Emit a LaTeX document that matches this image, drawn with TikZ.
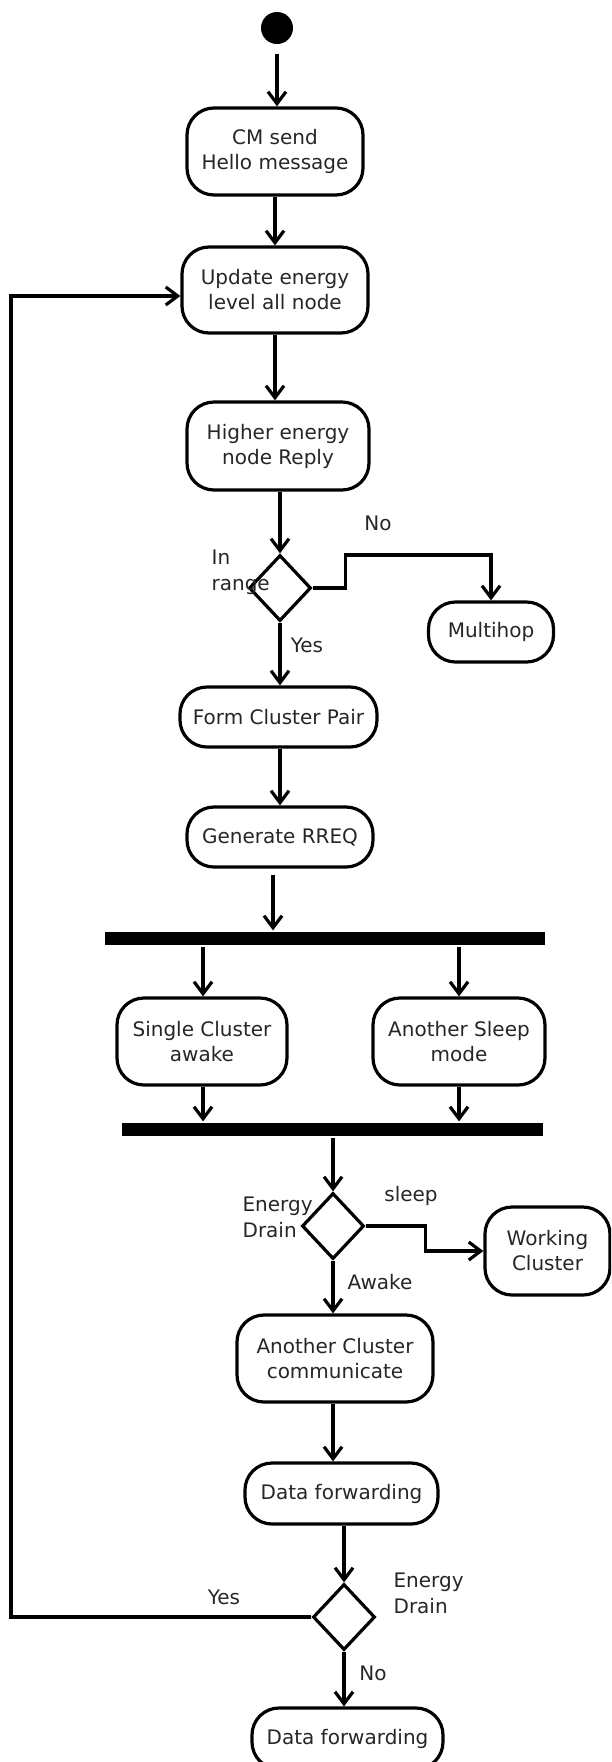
\documentclass[tikz,border=0pt]{standalone}
\usepackage{fontspec}
\setmainfont{DejaVu Sans}
\usetikzlibrary{arrows.meta,shapes.geometric}
\begin{document}
\begin{tikzpicture}[x=1pt,y=-1pt,
  line width=3.2pt,
  every node/.style={font=\fontsize{20}{25}\selectfont, text=black!85},
  act/.style={draw=black, rounded corners=27pt, align=center, inner sep=0pt, line width=3.2pt},
  dec/.style={draw=black, diamond, inner sep=0pt, minimum width=62pt, minimum height=66pt, line width=3.2pt},
  bar/.style={fill=black, inner sep=0pt, draw=none},
  arr/.style={-{Straight Barb[length=12pt,width=18pt]}},
  lbl/.style={inner sep=0pt, align=left, font=\fontsize{20}{26}\selectfont}
]
\clip (0,0) rectangle (611,1762);
% nodes
\node[circle, fill=black, minimum size=32pt, inner sep=0pt] (s) at (277,28) {};
\node[act, minimum width=176pt, minimum height=87pt] (b1) at (275,151.5) {CM send\\Hello message};
\node[act, minimum width=186pt, minimum height=86pt] (b2) at (275,290) {Update energy\\level all node};
\node[act, minimum width=182pt, minimum height=88pt] (b3) at (278,446) {Higher energy\\node Reply};
\node[dec] (d1) at (280,588) {};
\node[act, minimum width=125pt, minimum height=60pt] (mh) at (491,632) {Multihop};
\node[act, minimum width=197pt, minimum height=60pt] (form) at (278.5,717) {Form Cluster Pair};
\node[act, minimum width=186pt, minimum height=60pt] (rreq) at (280,837) {Generate RREQ};
\node[bar, minimum width=440pt, minimum height=13pt] (bar1) at (325,938.5) {};
\node[act, minimum width=170pt, minimum height=87pt] (single) at (202,1041.5) {Single Cluster\\awake};
\node[act, minimum width=172pt, minimum height=87pt] (sleepm) at (459,1041.5) {Another Sleep\\mode};
\node[bar, minimum width=421pt, minimum height=13pt] (bar2) at (332.5,1129.5) {};
\node[dec] (d2) at (333,1226) {};
\node[act, minimum width=125pt, minimum height=88pt] (wc) at (547.5,1251) {Working\\Cluster};
\node[act, minimum width=196pt, minimum height=87pt] (comm) at (335,1358.5) {Another Cluster\\communicate};
\node[act, minimum width=193pt, minimum height=61pt] (df1) at (341.5,1493.5) {Data forwarding};
\node[dec] (d3) at (344,1617) {};
\node[act, minimum width=191pt, minimum height=61pt] (df2) at (347.5,1738.5) {Data forwarding};
% labels
\node[lbl, anchor=north west] (lin) at (210,548) {In\\range};
\node[inner sep=0pt] (lno1) at (378,523) {No};
\node[inner sep=0pt] (lyes1) at (307,645) {Yes};
\node[lbl, anchor=north west] (led2) at (241,1195) {Energy\\Drain};
\node[inner sep=0pt] (lsleep) at (411,1196) {sleep};
\node[inner sep=0pt] (lawake) at (380,1282) {Awake};
\node[lbl, anchor=north west] (led3) at (392,1571) {Energy\\Drain};
\node[inner sep=0pt] (lyes3) at (224,1597) {Yes};
\node[inner sep=0pt] (lno3) at (373,1673) {No};
% helper coordinates
\coordinate (lp) at (11,0);
\coordinate (b2in) at ([yshift=-6pt]b2.west);
% connectors
\draw[arr] ([yshift=-8pt]s.south) -- (s.south |- b1.north);
\draw[arr] (b1.south) -- (b2.north);
\draw[arr] (b2.south) -- (b2.south |- b3.north);
\draw[arr] (d1.north |- b3.south) -- (d1.north);
\draw[arr] (d1.south) -- (d1.south |- form.north);
\draw[arr] (d1.east) -- ++(33,0) -- ++(0,-33) -| (mh.north);
\draw[arr] (rreq.north |- form.south) -- (rreq.north);
\draw[arr] ([xshift=-7pt,yshift=-6pt]rreq.south) -- ([xshift=-7pt]rreq.south |- bar1.north);
\draw[arr] ([xshift=1pt]single.north |- bar1.south) -- ([xshift=1pt]single.north);
\draw[arr] (sleepm.north |- bar1.south) -- (sleepm.north);
\draw[arr] ([xshift=1pt]single.south) -- ([xshift=1pt]single.south |- bar2.north);
\draw[arr] (sleepm.south) -- (sleepm.south |- bar2.north);
\draw[arr] (d2.north |- bar2.south) -- (d2.north);
\draw[arr] (d2.east) -- ++(60,0) |- (wc.west);
\draw[arr] (d2.south) -- (d2.south |- comm.north);
\draw[arr] ([xshift=-2pt]comm.south) -- ([xshift=-2pt]comm.south |- df1.north);
\draw[arr] (d3.north |- df1.south) -- (d3.north);
\draw[arr] (d3.south) -- (d3.south |- df2.north);
\draw[arr] (d3.west) -| (b2in -| lp) -- (b2in);
\end{tikzpicture}
\end{document}
